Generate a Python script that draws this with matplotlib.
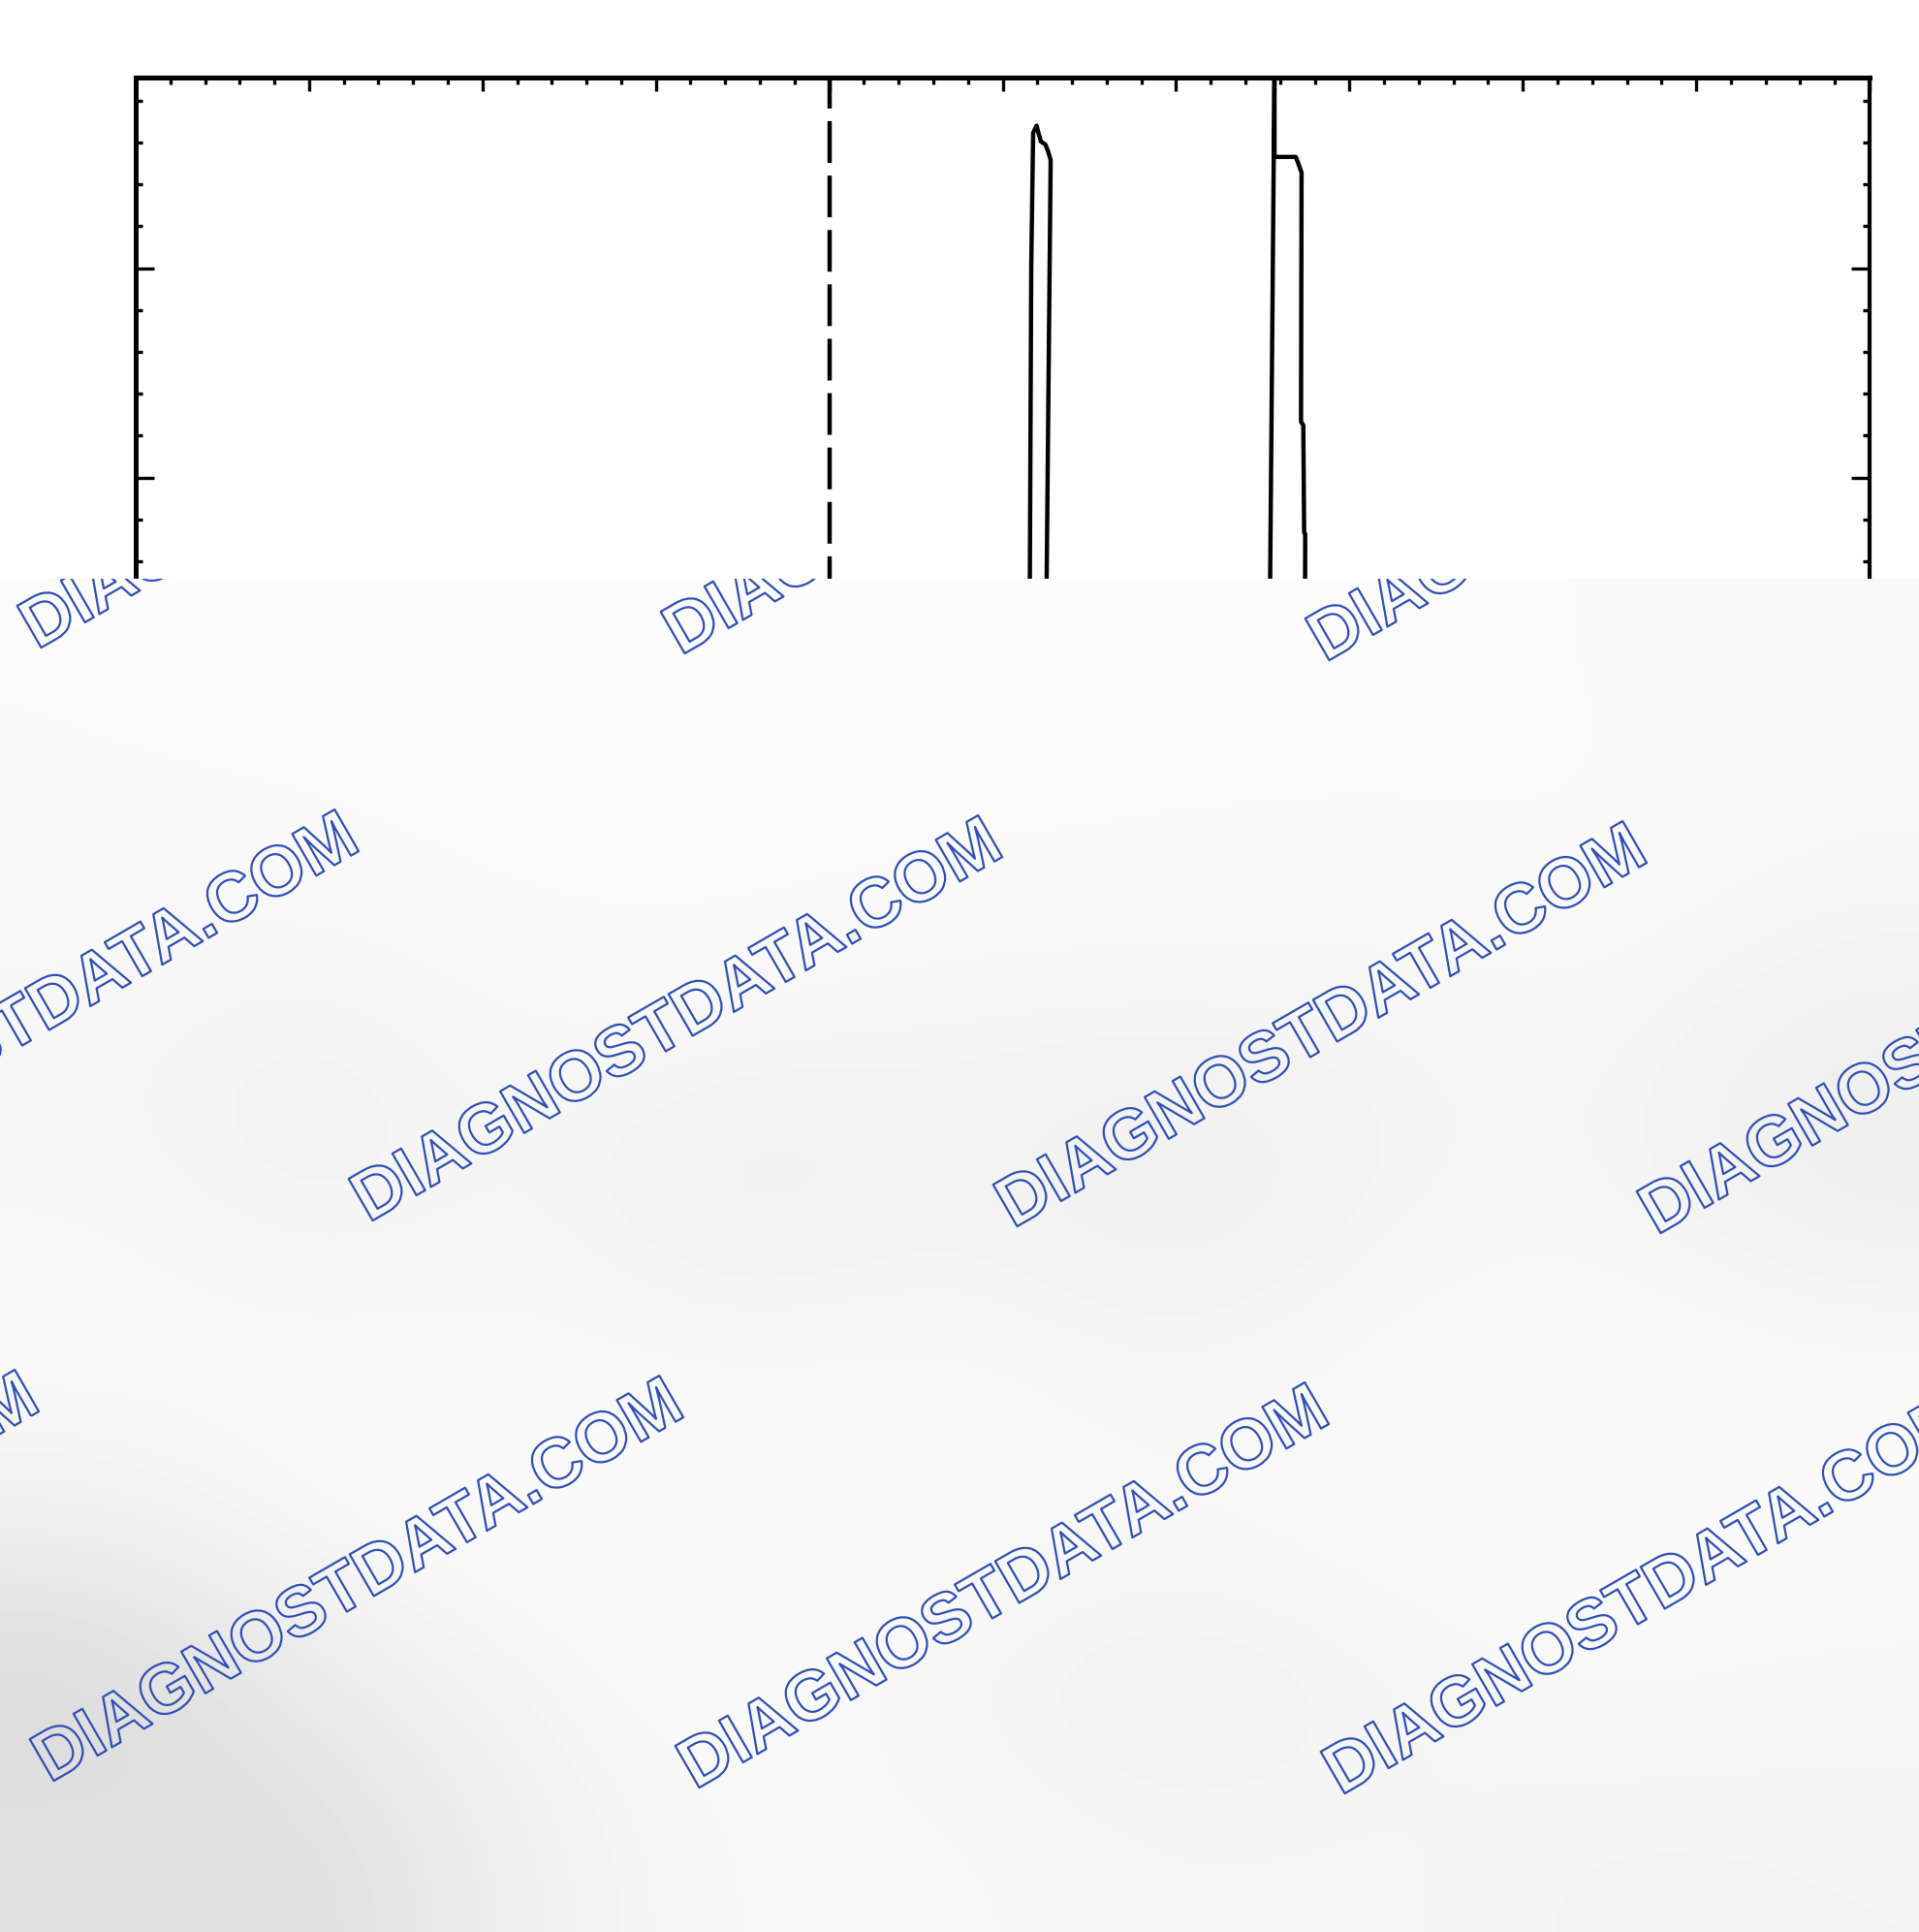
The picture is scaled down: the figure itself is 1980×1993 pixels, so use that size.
import matplotlib
matplotlib.use("Agg")
import matplotlib.pyplot as plt
import matplotlib.patheffects as pe
import numpy as np

plt.rcParams['lines.scale_dashes'] = False

# scanned trace (x: divisions, y: divisions from screen centre)
spike_x = [5.155, 5.157, 5.165, 5.176, 5.196, 5.206, 5.221, 5.246, 5.262, 5.277, 5.254, 5.253]
spike_y = [1.30, 1.52, 3.01, 3.646, 3.68, 3.647, 3.604, 3.591, 3.558, 3.516, 1.52, 1.30]

pulse_x = [6.542, 6.543, 6.568, 6.568, 6.691, 6.702, 6.724, 6.721, 6.734, 6.739, 6.745, 6.744]
pulse_y = [1.30, 1.52, 3.95, 3.531, 3.531, 3.507, 3.456, 2.266, 2.250, 1.739, 1.729, 1.30]

marker_x = 4.0

# watermark centres (pixels of the page)
wm_text = "DIAGNOSTDATA.COM"
wm_x = [358, 1022, 1687, 36, 700, 1365, 2029, -294, 371, 1037, 1703]
wm_y = [464, 470, 477, 1049, 1055, 1061, 1068, 1627, 1633, 1640, 1646]

# light grey mottling of the lower part of the page
shade = np.array([
    [250, 251, 252, 252, 252, 252, 251, 250, 248],
    [250, 250, 252, 252, 251, 250, 250, 251, 248],
    [246, 243, 248, 248, 245, 246, 245, 247, 241],
    [246, 241, 246, 237, 243, 236, 244, 246, 236],
    [250, 248, 248, 246, 248, 244, 248, 250, 248],
    [242, 250, 251, 251, 250, 248, 250, 251, 250],
    [216, 236, 246, 250, 244, 240, 244, 248, 246],
    [226, 220, 242, 248, 248, 245, 246, 243, 244],
])

W, H = 1980, 1993
def fx(px):
    return px / W
def fy(py):
    return 1 - py / H

fig = plt.figure(figsize=(19.8, 19.93), dpi=100)
fig.patch.set_facecolor('white')

ax = fig.add_axes([fx(140), fy(1808), fx(1929) - fx(140), fy(80) - fy(1808)])
ax.set_xlim(0, 10)
ax.set_ylim(-4.09, 3.91)

ax.plot(spike_x, spike_y, color='k', lw=3.2)
ax.plot(pulse_x, pulse_y, color='k', lw=3.2)
ax.plot([marker_x, marker_x], [3.91, -4.09], color='k', lw=3.2,
        linestyle=(8, (31, 9.4)))

ax.xaxis.set_ticks_position('top')
ax.set_xticks(np.arange(0, 11, 1))
ax.set_xticks(np.arange(0, 10.01, 0.2), minor=True)
ax.yaxis.set_ticks_position('both')
ax.set_yticks(np.arange(-4, 4, 1))
ax.set_yticks(np.arange(-4, 3.91, 0.2), minor=True)
ax.tick_params(which='major', direction='in', length=10, width=2.4,
               labeltop=False, labelbottom=False, labelleft=False, labelright=False)
ax.tick_params(which='minor', direction='in', length=5, width=2.4)
ax.tick_params(axis='y', which='major', length=14)
ax.tick_params(axis='x', bottom=False, which='both')
ax.spines['bottom'].set_visible(False)
for s in ['top', 'left']:
    ax.spines[s].set_linewidth(3.6)
ax.spines['right'].set_linewidth(3.0)

# grey cover with watermarks
cov = fig.add_axes([0, 0, 1, fy(597)], zorder=5)
cov.imshow(shade, cmap='gray', vmin=0, vmax=255, extent=(0, 1, 0, 1),
           aspect='auto', interpolation='bicubic')
cov.set_xlim(0, 1)
cov.set_ylim(0, 1)
cov.set_axis_off()

for x, y in zip(wm_x, wm_y):
    t = cov.text(fx(x), fy(y), wm_text, transform=fig.transFigure,
                 rotation=30, rotation_mode='anchor', ha='center', va='center',
                 fontsize=52, fontweight='bold', family='Liberation Sans',
                 color='none',
                 path_effects=[pe.Stroke(linewidth=1.6, foreground='#2f4fb5')])
    t.set_clip_box(cov.bbox)
    t.set_clip_on(True)

fig.savefig("out.png", dpi=100, facecolor='white')
